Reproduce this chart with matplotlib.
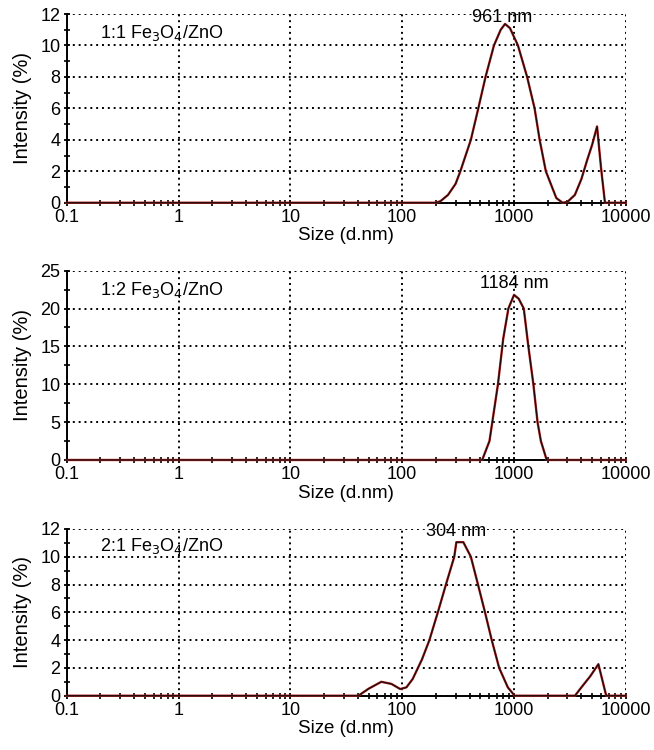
import matplotlib
matplotlib.use("Agg")
import numpy as np
import matplotlib.pyplot as plt
from matplotlib.ticker import LogLocator, MultipleLocator, NullFormatter, FixedLocator, FixedFormatter

plt.rcParams['font.family'] = ['Liberation Sans', 'DejaVu Sans']

# sample 1:1 Fe3O4/ZnO
size_11 = [0.1, 200, 220, 257, 300, 331, 411, 479, 556, 661, 760, 831, 920,
           1084, 1309, 1527, 1694, 1925, 2387, 2713, 3000, 3500, 4000, 4500,
           5000, 5525, 6000, 6500, 10000]
int_11 = [0, 0, 0.1, 0.5, 1.2, 2.0, 4.0, 6.0, 8.0, 10.0, 11.0, 11.37, 11.1,
          10.0, 8.0, 6.0, 4.0, 2.0, 0.3, 0.0, 0.05, 0.5, 1.5, 2.7,
          3.7, 4.85, 2.2, 0.0, 0]

# sample 1:2 Fe3O4/ZnO
size_12 = [0.1, 519, 603, 718, 800, 890, 1000, 1100, 1222, 1343, 1489,
           1622, 1738, 1959, 10000]
int_12 = [0, 0, 2.5, 10.0, 16.0, 20.0, 21.8, 21.3, 20.0, 15.0, 10.0,
          5.0, 2.5, 0.0, 0]

# sample 2:1 Fe3O4/ZnO
size_21 = [0.1, 40.6, 50, 65, 80, 96, 109, 124, 150, 175, 210, 246, 292,
           305, 352, 411, 476, 550, 632, 736, 880, 1012, 3508, 4000, 4800,
           5680, 6670, 10000]
int_21 = [0, 0, 0.5, 1.0, 0.85, 0.48, 0.6, 1.2, 2.6, 4.0, 6.1, 8.0, 10.0,
          11.05, 11.05, 10.0, 8.0, 6.0, 4.0, 2.0, 0.6, 0.0, 0.0, 0.6, 1.4,
          2.27, 0.0, 0]

labels = ['1:1 Fe$_3$O$_4$/ZnO', '1:2 Fe$_3$O$_4$/ZnO', '2:1 Fe$_3$O$_4$/ZnO']
peak_text = ['961 nm', '1184 nm', '304 nm']
peak_pos = [(781, 11.8), (1000, 23.3), (305, 11.8)]
ymax = [12, 25, 12]
ystep = [2, 5, 2]

fig = plt.figure(figsize=(6.54, 7.5), dpi=100)
rects = [[0.102, 0.7297, 0.855, 0.2516],
         [0.102, 0.3867, 0.855, 0.2524],
         [0.102, 0.0724, 0.855, 0.2223]]
data = [(size_11, int_11), (size_12, int_12), (size_21, int_21)]

for i in range(3):
    ax = fig.add_axes(rects[i])
    x, y = data[i]
    ax.plot(x, y, color='#b02525', lw=1.7, zorder=3, clip_on=False)
    ax.plot(x, y, color='#1e0a0a', lw=0.9, zorder=4, clip_on=False)
    ax.set_xscale('log')
    ax.set_xlim(0.1, 10000)
    ax.set_ylim(0, ymax[i])
    ax.xaxis.set_major_locator(FixedLocator([0.1, 1, 10, 100, 1000, 10000]))
    ax.xaxis.set_major_formatter(FixedFormatter(['0.1', '1', '10', '100', '1000', '10000']))
    ax.xaxis.set_minor_locator(LogLocator(base=10, subs=np.arange(2, 10)))
    ax.xaxis.set_minor_formatter(NullFormatter())
    ax.yaxis.set_major_locator(MultipleLocator(ystep[i]))
    ax.yaxis.set_minor_locator(MultipleLocator(ystep[i] / 2))
    ax.spines['top'].set_visible(False)
    ax.spines['right'].set_visible(False)
    ax.spines['left'].set_linewidth(1.4)
    ax.spines['bottom'].set_linewidth(1.4)
    ax.tick_params(which='major', direction='inout', length=5, width=1.3,
                   labelsize=13, pad=2)
    ax.tick_params(which='minor', direction='inout', length=4, width=1.2)
    ax.grid(True, which='major', color='black', linestyle=(0, (1, 2)), linewidth=1.4)
    ax.set_axisbelow(True)
    ax.set_xlabel('Size (d.nm)', fontsize=13.5, labelpad=1)
    ax.set_ylabel('Intensity (%)', fontsize=14.5, labelpad=6)
    ax.text(0.06, 0.9, labels[i], transform=ax.transAxes, fontsize=13,
            ha='left', va='center')
    ax.text(peak_pos[i][0], peak_pos[i][1], peak_text[i], fontsize=13,
            ha='center', va='center', zorder=5)

fig.savefig('out.png', dpi=100)
